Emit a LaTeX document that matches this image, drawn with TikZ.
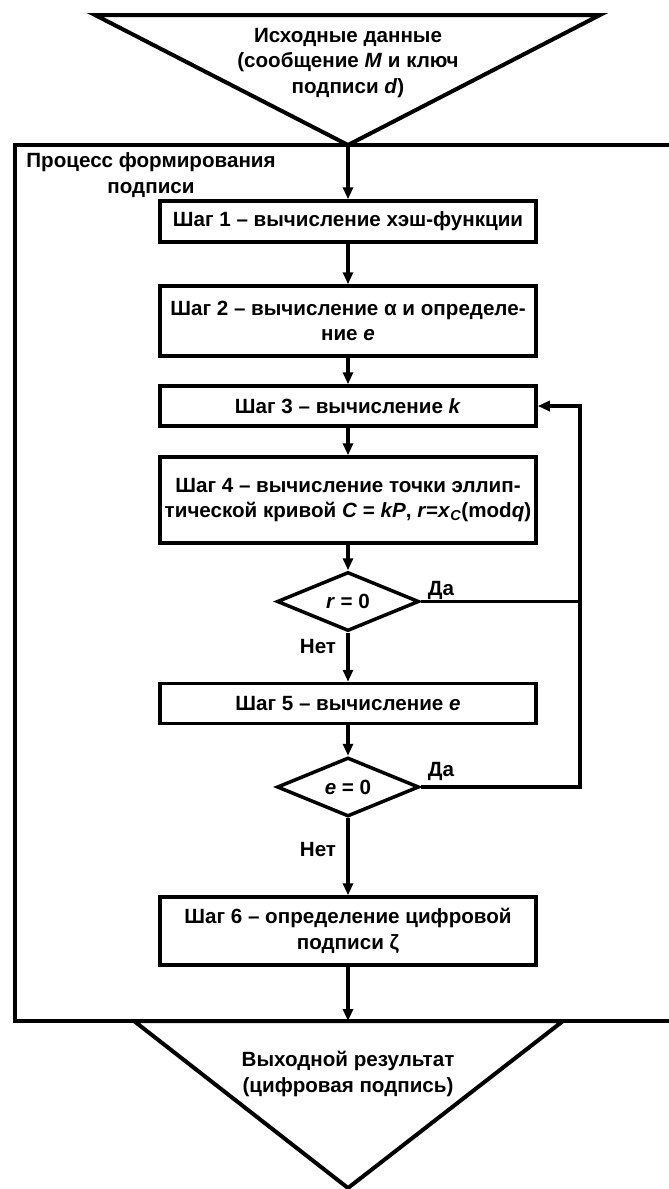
\documentclass[tikz,border=0pt]{standalone}
\usepackage{fontspec}
\setmainfont{Liberation Sans}
\usetikzlibrary{arrows.meta,shapes.geometric}
\begin{document}
\begin{tikzpicture}[x=1pt,y=-1pt,
  txt/.style={font=\bfseries\fontsize{20.6}{25.5}\selectfont, align=center, inner sep=0pt},
  stepbox/.style={txt, draw, line width=3.5pt, minimum width=376pt},
  decision/.style={txt, draw, diamond, line width=3.5pt, inner sep=0pt, minimum width=142pt, minimum height=59pt, aspect=2.4},
  conn/.style={line width=3.5pt},
  thinconn/.style={line width=2.2pt},
  arr/.style={conn, -{Triangle[length=12pt,width=10pt]}},
  frame/.style={line width=4pt, line join=miter}
]
\useasboundingbox (0,0) rectangle (669,1189);
\clip (0,0) rectangle (669,1189);
\fill[white] (0,0) rectangle (669,1189);

% input triangle
\coordinate (inL) at (95,15);
\coordinate (inR) at (600,15);
\coordinate (inA) at (348,145);
\draw[frame] (inL) -- (inR) -- (inA) -- cycle;
\node[txt] (intext) at (348,63) {Исходные данные\\(сообщение \textit{M} и ключ\\подписи \textit{d})};

% process frame
\coordinate (frTL) at (15,145);
\coordinate (frBR) at (700,1021);
\draw[frame] (frTL) rectangle (frBR);
\node[txt] (frlabel) at (151,175) {Процесс формирования\\подписи};

% steps
\node[stepbox, minimum height=41pt] (s1) at (348,221.5) {Шаг 1 -- вычисление хэш-функции};
\node[stepbox, minimum height=70pt] (s2) at (348,321) {Шаг 2 -- вычисление α и определе-\\ние \textit{e}};
\node[stepbox, minimum height=40pt] (s3) at (348,406) {Шаг 3 -- вычисление \textit{k}};
\node[stepbox, minimum height=86pt] (s4) at (348,500) {Шаг 4 -- вычисление точки эллип-\\тической кривой \textit{C} = \textit{kP}, \textit{r}=\textit{x}\textsubscript{\textit{C}}(mod\textit{q})};
\node[decision] (d1) at (348,601.5) {\textit{r} = 0};
\node[stepbox, minimum height=40pt] (s5) at (348,703.5) {Шаг 5 -- вычисление \textit{e}};
\node[decision] (d2) at (348,787) {\textit{e} = 0};
\node[stepbox, minimum height=68pt] (s6) at (348,931) {Шаг 6 -- определение цифровой\\подписи ζ};

% output triangle
\coordinate (outL) at (134,1021);
\coordinate (outR) at (563,1021);
\coordinate (outA) at (348,1188);
\coordinate (outT) at (348,1021);
\draw[frame] (outL) -- (outR) -- (outA) -- cycle;
\node[txt] (outtext) at (348,1074) {Выходной результат\\(цифровая подпись)};

% main flow
\draw[arr] (inA) -- (s1.north);
\draw[arr] (s1.south) -- (s2.north);
\draw[arr] (s2.south) -- (s3.north);
\draw[arr] (s3.south) -- (s4.north);
\draw[arr] (s4.south) -- (d1.north);
\draw[arr] (d1.south) -- (s5.north);
\draw[arr] (s5.south) -- (d2.north);
\draw[arr] (d2.south) -- (s6.north);
\draw[arr] (s6.south) -- (outT);

% loop back
\coordinate (lb) at (580,787);
\draw[arr] (d2.east) -- (lb) |- (s3.east);
\draw[thinconn] (d1.east) -- (d1.east -| lb);

% labels
\node[txt] (yes1) at (441,590) {Да};
\node[txt] (yes2) at (441,771) {Да};
\node[txt] (no1) at (318,647) {Нет};
\node[txt] (no2) at (318,850) {Нет};
\end{tikzpicture}
\end{document}
